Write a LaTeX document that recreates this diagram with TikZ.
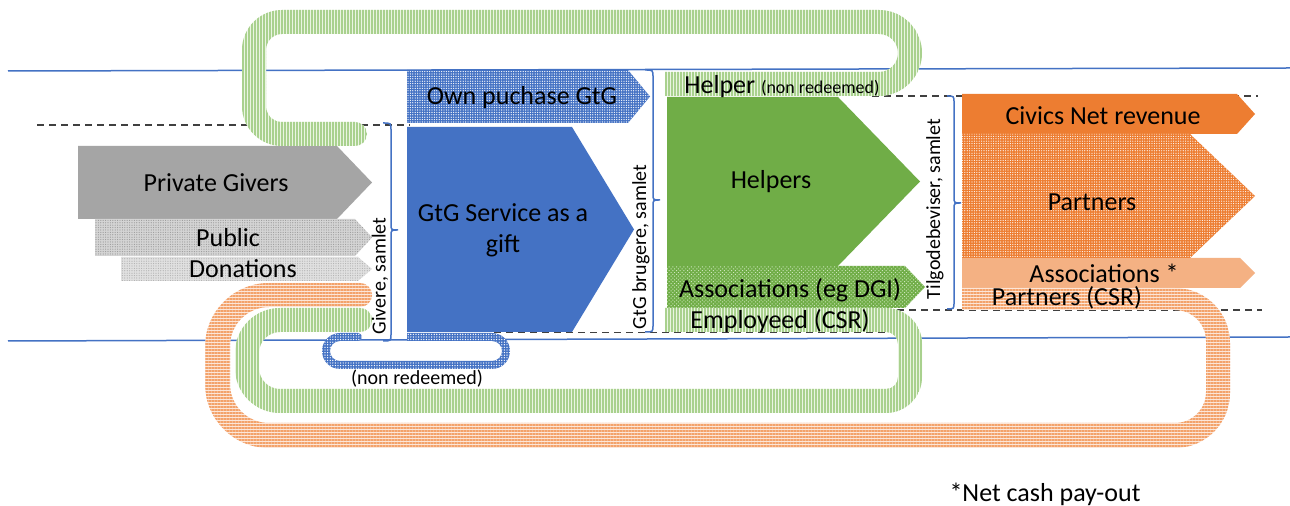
\documentclass[tikz,border=0pt]{standalone}
\usepackage{fontspec}
\setmainfont{Carlito}
\usetikzlibrary{patterns.meta}
\definecolor{cgray}{HTML}{A5A5A5}
\definecolor{pubbase}{HTML}{D4D4D4}
\definecolor{pubdot}{HTML}{9A9A9A}
\definecolor{donbase}{HTML}{E0E0E0}
\definecolor{dondot}{HTML}{B0B0B0}
\definecolor{cblue}{HTML}{4472C4}
\definecolor{cgreen}{HTML}{70AD47}
\definecolor{cgreendot}{HTML}{CDE6BC}
\definecolor{gbase}{HTML}{EAF5E2}
\definecolor{gline}{HTML}{A9D18E}
\definecolor{corange}{HTML}{ED7D31}
\definecolor{lorange}{HTML}{F4B183}
\definecolor{obase}{HTML}{FCE6D8}
\definecolor{oline}{HTML}{F3A26A}
\begin{document}
\begin{tikzpicture}[x=0.5pt,y=-0.5pt,
  lbl/.style={font=\fontsize{13}{15.6}\selectfont, inner sep=0pt, text=black},
  sml/.style={font=\fontsize{10}{12}\selectfont, inner sep=0pt, text=black},
  brace/.style={draw=cblue, line width=0.75pt},
  blueln/.style={draw=cblue, line width=0.75pt},
  dashln/.style={draw=black!75, line width=0.6pt, dash pattern=on 3.5pt off 2.5pt},
  gloop/.style={preaction={fill=gbase}, pattern={Lines[angle=90,distance=1.5pt,line width=0.75pt]}, pattern color=gline},
  oloop/.style={preaction={fill=obase}, pattern={Lines[angle=0,distance=1.5pt,line width=0.75pt]}, pattern color=oline},
  bloop/.style={preaction={fill=cblue}, pattern={Dots[radius=0.35pt,distance=1.3pt]}, pattern color=white},
  ownpat/.style={preaction={fill=cblue}, pattern={Dots[radius=0.33pt,distance=1.2pt]}, pattern color=white},
  pubpat/.style={preaction={fill=pubbase}, pattern={Dots[radius=0.3pt,distance=1.2pt]}, pattern color=pubdot},
  donpat/.style={preaction={fill=donbase}, pattern={Dots[radius=0.3pt,distance=1.2pt]}, pattern color=dondot},
  asspat/.style={preaction={fill=cgreen}, pattern={Dots[radius=0.35pt,distance=1.3pt,angle=45]}, pattern color=cgreendot},
  partpat/.style={preaction={fill=corange}, pattern={Dots[radius=0.3pt,distance=1.2pt]}, pattern color=white}
]
\useasboundingbox (0,0) rectangle (1290,506);
\fill[white] (0,0) rectangle (1290,506);

% dashed guide lines (behind)
\draw[dashln] (37,125) -- (410,125);
\draw[dashln] (872,96) -- (1258,96);

% flow blocks
\fill[cgray] (78,146) -- (337,146) -- (372,182.5) -- (337,219) -- (78,219) -- cycle;
\path[pubpat] (95,219) -- (355,219) -- (372,237.5) -- (355,256) -- (95,256) -- cycle;
\path[donpat] (121,257) -- (358,257) -- (372,269) -- (358,281) -- (121,281) -- cycle;
\path[ownpat] (407,70) -- (628,70) -- (650,96.5) -- (628,123) -- (407,123) -- cycle;
\fill[cblue] (407,127) -- (572,127) -- (634,229.5) -- (572,332) -- (407,332) -- cycle;
\fill[cgreen] (667,97) -- (838,97) -- (920,181.5) -- (838,266) -- (667,266) -- cycle;
\path[asspat] (667,266) -- (905,266) -- (925,287) -- (905,308) -- (667,308) -- cycle;
\fill[corange] (962,94) -- (1237,94) -- (1255,114) -- (1237,134) -- (962,134) -- cycle;
\path[partpat] (962,134) -- (1190,134) -- (1255,196) -- (1190,258) -- (962,258) -- cycle;
\fill[lorange] (962,258) -- (1240,258) -- (1255,273) -- (1240,288) -- (962,288) -- cycle;

\draw[dashln] (494,332.5) -- (900,332.5);
\draw[dashln] (897,310) -- (1262,310);

% blue solid lines
\draw[blueln] (8,71) -- (1290,68);
\draw[blueln] (8,341) -- (1290,337);

% top green loop
\path[gloop] (665,96) -- (879,96) .. controls (902.75,96) and (922,76.75) .. (922,53) .. controls (922,29.25) and (902.75,10) .. (879,10) -- (282,10) .. controls (259.91,10) and (242,27.91) .. (242,50) -- (242,106) .. controls (242,128.09) and (259.91,146) .. (282,146) -- (355,146) .. controls (361.63,146) and (367,140.63) .. (367,134) .. controls (367,127.37) and (361.63,122) .. (355,122) -- (282,122) .. controls (273.16,122) and (266,114.84) .. (266,106) -- (266,50) .. controls (266,41.16) and (273.16,34) .. (282,34) -- (879,34) .. controls (889.49,34) and (898,42.51) .. (898,53) .. controls (898,63.49) and (889.49,72) .. (879,72) -- (665,72) -- cycle;

% bottom green loop
\path[gloop] (665,308) -- (886,308) .. controls (905.88,308) and (922,324.12) .. (922,344) -- (922,377) .. controls (922,396.88) and (905.88,413) .. (886,413) -- (280,413) .. controls (255.15,413) and (235,392.85) .. (235,368) -- (235,353) .. controls (235,328.15) and (255.15,308) .. (280,308) -- (360,308) .. controls (366.63,308) and (372,313.37) .. (372,320) .. controls (372,326.63) and (366.63,332) .. (360,332) -- (280,332) .. controls (268.4,332) and (259,341.4) .. (259,353) -- (259,368) .. controls (259,379.6) and (268.4,389) .. (280,389) -- (886,389) .. controls (892.63,389) and (898,383.63) .. (898,377) -- (898,344) .. controls (898,337.37) and (892.63,332) .. (886,332) -- (665,332) -- cycle;

% orange loop
\path[oloop] (962,288) -- (1175,288) .. controls (1205.38,288) and (1230,312.62) .. (1230,343) -- (1230,393) .. controls (1230,423.38) and (1205.38,448) .. (1175,448) -- (269,448) .. controls (233.65,448) and (205,419.35) .. (205,384) -- (205,347) .. controls (205,311.65) and (233.65,283) .. (269,283) -- (360,283) .. controls (366.63,283) and (372,288.37) .. (372,295) .. controls (372,301.63) and (366.63,307) .. (360,307) -- (269,307) .. controls (247.46,307) and (230,324.46) .. (230,346) -- (230,384) .. controls (230,405.54) and (247.46,423) .. (269,423) -- (1175,423) .. controls (1192.12,423) and (1206,409.12) .. (1206,392) -- (1206,341) .. controls (1206,323.88) and (1192.12,310) .. (1175,310) -- (962,310) -- cycle;

% blue small loop
\path[bloop] (407,333) -- (492,333) .. controls (501.94,333) and (510,341.06) .. (510,351) .. controls (510,360.94) and (501.94,369) .. (492,369) -- (340,369) .. controls (330.06,369) and (322,360.94) .. (322,351) .. controls (322,341.06) and (330.06,333) .. (340,333) -- (358,333) .. controls (360.21,333) and (362,334.79) .. (362,337) .. controls (362,339.21) and (360.21,341) .. (358,341) -- (340,341) .. controls (334.48,341) and (330,345.48) .. (330,351) .. controls (330,356.52) and (334.48,361) .. (340,361) -- (492,361) .. controls (497.52,361) and (502,356.52) .. (502,351) .. controls (502,345.48) and (497.52,341) .. (492,341) -- (407,341) -- cycle;

% braces
\draw[brace] (383,123) .. controls (391,123) .. (391,130) -- (391,224) .. controls (391,230) .. (398,230) .. controls (391,230) .. (391,236) -- (391,334) .. controls (391,341) .. (383,341);
\draw[brace] (645,70) .. controls (653,70) .. (653,77) -- (653,194) .. controls (653,200) .. (660,200) .. controls (653,200) .. (653,206) -- (653,325) .. controls (653,332) .. (645,332);
\draw[brace] (947,96) .. controls (954,96) .. (954,103) -- (954,197) .. controls (954,203) .. (961,203) .. controls (954,203) .. (954,209) -- (954,302) .. controls (954,309) .. (947,309);

% labels
\node[lbl] (tpriv) at (216,183) {Private Givers};
\node[lbl] (tpub) at (228,238) {Public};
\node[lbl] (tdon) at (243,269) {Donations};
\node[lbl, align=center] (tgtg) at (503,230) {GtG Service as a\\gift};
\node[lbl] (town) at (522,98) {Own puchase GtG};
\node[lbl, anchor=base west] (thelper) at (684,94) {Helper {\fontsize{9}{11}\selectfont (non redeemed)}};
\node[lbl] (thelpers) at (771,182) {Helpers};
\node[lbl] (tassoc) at (790,290) {Associations (eg DGI)};
\node[lbl] (templ) at (780,321) {Employeed (CSR)};
\node[lbl] (tcivics) at (1103,116) {Civics Net revenue};
\node[lbl] (tpart) at (1092,202) {Partners};
\node[lbl] (tassocs) at (1104,273) {Associations *};
\node[lbl] (tpcsr) at (1067,298) {Partners (CSR)};
\node[sml] (tnonred) at (417,379) {(non redeemed)};
\node[lbl] (tnet) at (1045,494) {*Net cash pay-out};
\node[sml, rotate=90] (tgivere) at (380,276) {Givere, samlet};
\node[sml, rotate=90] (tgtgb) at (641,247) {GtG brugere, samlet};
\node[sml, rotate=90] (ttilg) at (935,209) {Tilgodebeviser, samlet};
\end{tikzpicture}
\end{document}
